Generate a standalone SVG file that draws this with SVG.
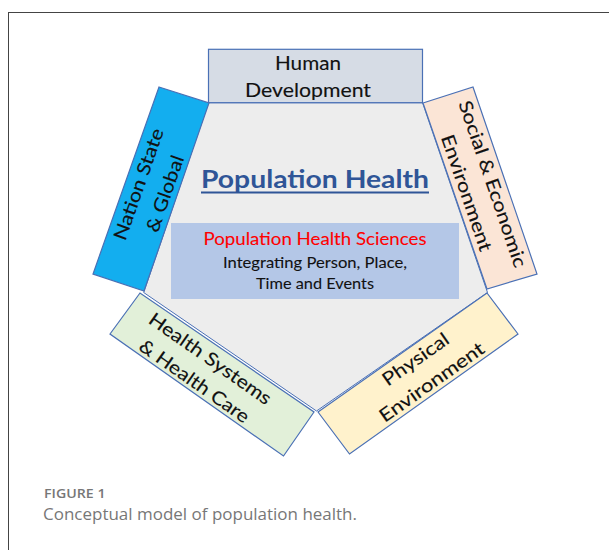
<svg xmlns="http://www.w3.org/2000/svg" width="609" height="550" viewBox="0 0 609 550">
<style>
.side{stroke:#4a70b5;stroke-width:1.2;stroke-linejoin:miter}
.lbl{font-family:Lato,"Open Sans","Liberation Sans",sans-serif;font-size:18.5px;fill:#111;stroke:#111;stroke-width:0.12;text-anchor:middle}
.cap{font-family:"Open Sans","Noto Sans","Liberation Sans",sans-serif;fill:#777}
</style>
<rect x="8.5" y="12.5" width="700" height="600" fill="none" stroke="#444" stroke-width="1"/>
<g id="connectors"/>
<g id="core">
<polygon points="208.5,102.7 422.5,102.7 487.5,292.5 316.5,411 143.7,292.5" fill="#ededed" stroke="#4a70b5" stroke-width="1"/>
<text x="315" y="187.7" font-family="Lato,'Open Sans','Liberation Sans',sans-serif" font-weight="bold" font-size="25.5" fill="#2f5597" text-anchor="middle" textLength="228" lengthAdjust="spacingAndGlyphs">Population Health</text>
<line x1="201" y1="192.6" x2="429" y2="192.6" stroke="#2f5597" stroke-width="2"/>
</g>
<g id="sciences">
<rect x="171" y="223" width="288" height="76" fill="#b4c7e7"/>
<text x="315" y="245" font-family="Lato,'Open Sans','Liberation Sans',sans-serif" font-size="16.5" fill="#ff0000" stroke="#ff0000" stroke-width="0.1" text-anchor="middle" textLength="223" lengthAdjust="spacingAndGlyphs">Population Health Sciences</text>
<text x="315" y="268.3" font-family="Lato,'Open Sans','Liberation Sans',sans-serif" font-size="15.8" fill="#111" stroke="#111" stroke-width="0.1" text-anchor="middle" textLength="184" lengthAdjust="spacingAndGlyphs">Integrating Person, Place,</text>
<text x="315" y="289" font-family="Lato,'Open Sans','Liberation Sans',sans-serif" font-size="15.8" fill="#111" stroke="#111" stroke-width="0.1" text-anchor="middle" textLength="118" lengthAdjust="spacingAndGlyphs">Time and Events</text>
</g>
<g id="human-development">
<rect class="side" x="208.5" y="49.3" width="214" height="53.4" fill="#d6dce5"/>
<text class="lbl" x="308" y="70" textLength="66" lengthAdjust="spacingAndGlyphs">Human</text>
<text class="lbl" x="308" y="96.5" textLength="126" lengthAdjust="spacingAndGlyphs">Development</text>
</g>
<g id="nation-state">
<polygon class="side" points="159,87 209,103 144,291 93,274" fill="#13aeef"/>
<g transform="translate(151.25,188.75) rotate(-70.6)">
<text class="lbl" x="0" y="-7" textLength="117" lengthAdjust="spacingAndGlyphs">Nation State</text>
<text class="lbl" x="0" y="21" textLength="80" lengthAdjust="spacingAndGlyphs">&amp; Global</text>
</g>
</g>
<g id="social-economic">
<polygon class="side" points="423,103 473,87 537,274 487,289" fill="#fbe5d6"/>
<g transform="translate(480,188.25) rotate(71.1)">
<text class="lbl" x="0" y="-7" textLength="175" lengthAdjust="spacingAndGlyphs">Social &amp; Economic</text>
<text class="lbl" x="0" y="20.5" textLength="122" lengthAdjust="spacingAndGlyphs">Environment</text>
</g>
</g>
<g id="health-systems">
<polygon class="side" points="140,293 110,334 283.5,456 314,412" fill="#e2f0d9"/>
<g transform="translate(211.9,373.75) rotate(35.1)">
<text class="lbl" x="-10" y="-5" textLength="145" lengthAdjust="spacingAndGlyphs">Health Systems</text>
<text class="lbl" x="-10" y="22.5" textLength="130" lengthAdjust="spacingAndGlyphs">&amp; Health Care</text>
</g>
</g>
<g id="physical-environment">
<polygon class="side" points="318,412 487,293 518,334 349.5,454" fill="#fff2cc"/>
<g transform="translate(418.1,373.25) rotate(-35.2)">
<text class="lbl" x="6" y="-6.5" textLength="77" lengthAdjust="spacingAndGlyphs">Physical</text>
<text class="lbl" x="6" y="21.5" textLength="124" lengthAdjust="spacingAndGlyphs">Environment</text>
</g>
</g>
<g id="caption">
<text class="cap" x="44" y="498.3" font-size="13" font-weight="600" fill="#6b6b6b" textLength="61.5" lengthAdjust="spacingAndGlyphs">FIGURE 1</text>
<text class="cap" x="43" y="519.5" font-size="15.5" font-weight="400" fill="#7a7a7a" textLength="314" lengthAdjust="spacingAndGlyphs">Conceptual model of population health.</text>
</g>
</svg>
